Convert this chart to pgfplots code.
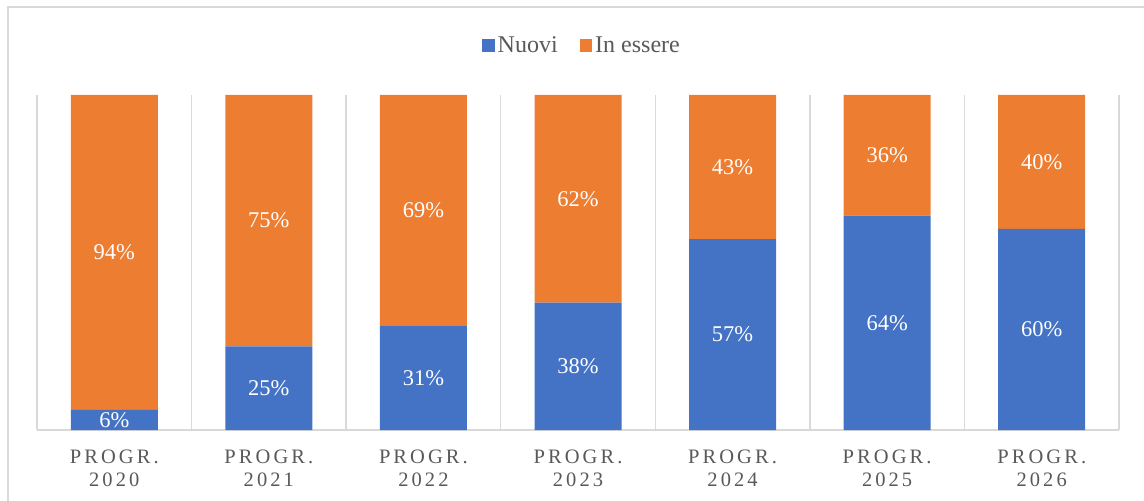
\documentclass[border=0pt]{standalone}
\usepackage{fontspec}
\setmainfont{Liberation Serif}
\newfontfamily\spacedfont[LetterSpace=15]{Liberation Serif}
\usepackage{pgfplots}
\pgfplotsset{compat=1.18}
\definecolor{cblue}{HTML}{4472C4}
\definecolor{corange}{HTML}{ED7D31}
\definecolor{ctext}{HTML}{595959}
\definecolor{cgrid}{HTML}{D9D9D9}
\begin{document}
\begin{tikzpicture}[x=1pt,y=1pt]
\path[use as bounding box] (0,0) rectangle (1144,501);
\draw[cgrid, line width=1.5pt] (8,-20) -- (8,494) -- (1170,494);
\begin{axis}[
  at={(37pt,71pt)}, anchor=south west,
  scale only axis, width=1082pt, height=335pt,
  ybar stacked, bar width=87pt,
  xmin=-0.5, xmax=6.5, ymin=0, ymax=100,
  axis x line*=bottom, axis y line=none,
  x axis line style={cgrid, line width=1.5pt, -},
  xtick={0,...,6}, major tick length=0, minor tick length=0,
  xticklabels={{PROGR.\\2020},{PROGR.\\2021},{PROGR.\\2022},{PROGR.\\2023},{PROGR.\\2024},{PROGR.\\2025},{PROGR.\\2026}},
  xticklabel style={align=center, text=ctext, font=\spacedfont\fontsize{20.5}{23}\selectfont, anchor=north, yshift=-16pt},
  minor xtick={-0.5,0.5,...,6.5},
  xminorgrids, minor grid style={cgrid, line width=1.5pt},
  /pgf/number format/assume math mode=true,
  legend style={at={(0.5042,1.147)}, anchor=center, draw=none, fill=none,
    font=\fontsize{24}{26}\selectfont, text=ctext, legend columns=2,
    /tikz/every even column/.append style={column sep=19pt},
    nodes={inner sep=3pt}},
  nodes near coords={\pgfmathprintnumber[assume math mode=true]{\pgfplotspointmeta}\%},
  every node near coord/.append style={anchor=center, text=white,
    font=\fontsize{22.5}{24}\selectfont},
]
\addplot[fill=cblue, draw=none, legend image code/.code={\fill[cblue] (0pt,-6pt) rectangle (12.5pt,6.5pt);}]
  coordinates {(0,6) (1,25) (2,31) (3,38) (4,57) (5,64) (6,60)};
\addplot[fill=corange, draw=none, legend image code/.code={\fill[corange] (0pt,-6pt) rectangle (12.5pt,6.5pt);}]
  coordinates {(0,94) (1,75) (2,69) (3,62) (4,43) (5,36) (6,40)};
\legend{Nuovi, In essere}
\end{axis}
\end{tikzpicture}
\end{document}
